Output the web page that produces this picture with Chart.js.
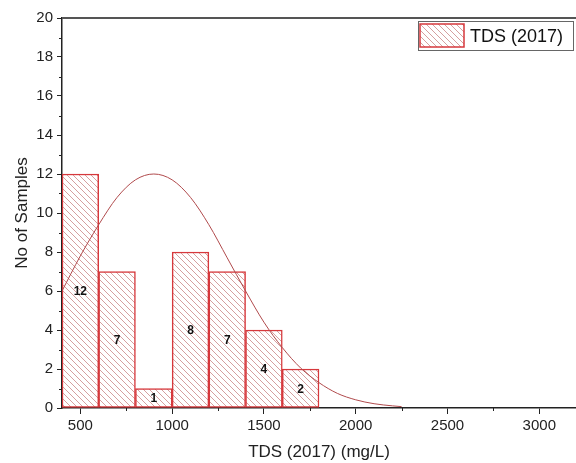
<!DOCTYPE html>
<html>
<head>
<meta charset="utf-8">
<script src="https://cdn.jsdelivr.net/npm/chart.js@4.4.1/dist/chart.umd.min.js"></script>
<style>
  html, body { margin: 0; padding: 0; background: #fff; }
  #wrap { width: 576px; height: 463px; }
</style>
</head>
<body>
<div id="wrap"><canvas id="histo"></canvas></div>
<script>
// histogram bins (centre of each 200 mg/L bin) and counts
const binCenters = [500, 700, 900, 1100, 1300, 1500, 1700];
const counts = [12, 7, 1, 8, 7, 4, 2];

// fitted normal curve
const curveX = [400, 500, 600, 700, 800, 900, 1000, 1100, 1200, 1300, 1400, 1500, 1600, 1700, 1800, 1900, 2000, 2100, 2200, 2250];
const curveY = [6.0, 7.8, 9.4, 10.8, 11.7, 12.0, 11.7, 10.8, 9.4, 7.7, 6.0, 4.4, 3.1, 2.05, 1.3, 0.75, 0.42, 0.22, 0.11, 0.07];

const xTicks = [500, 1000, 1500, 2000, 2500, 3000];
const xMinorTicks = [750, 1250, 1750, 2250, 2750];
const yTicks = [0, 2, 4, 6, 8, 10, 12, 14, 16, 18, 20];
const yMinorTicks = [1, 3, 5, 7, 9, 11, 13, 15, 17, 19];

const seriesName = 'TDS (2017)';
const barRed = '#d6383c';
const curveRed = '#b04a4c';
const FONT = '"Liberation Sans", Arial, sans-serif';

function makeHatch() {
  const s = 6;
  const c = document.createElement('canvas');
  c.width = s; c.height = s;
  const g = c.getContext('2d');
  g.fillStyle = '#fff';
  g.fillRect(0, 0, s, s);
  g.strokeStyle = 'rgba(185,95,95,0.6)';
  g.lineWidth = 1;
  g.beginPath();
  g.moveTo(-1, -1); g.lineTo(s + 1, s + 1);
  g.moveTo(-1, s - 1); g.lineTo(1, s + 1);
  g.moveTo(s - 1, -1); g.lineTo(s + 1, 1);
  g.stroke();
  return g.createPattern(c, 'repeat');
}
const hatch = makeHatch();

const extras = {
  id: 'extras',
  afterDatasetsDraw(chart) {
    const ctx = chart.ctx;
    const meta = chart.getDatasetMeta(1);
    ctx.save();
    ctx.fillStyle = '#111';
    ctx.font = 'bold 12px ' + FONT;
    ctx.textAlign = 'center';
    ctx.textBaseline = 'middle';
    meta.data.forEach((el, i) => {
      ctx.fillText(String(counts[i]), el.x, (el.y + el.base) / 2 + 1);
    });
    ctx.restore();
  },
  afterDraw(chart) {
    const ctx = chart.ctx;
    const { left, right, top, bottom } = chart.chartArea;
    const xs = chart.scales.x, ys = chart.scales.y;
    ctx.save();
    // top frame line
    ctx.strokeStyle = '#555';
    ctx.lineWidth = 2;
    ctx.beginPath();
    ctx.moveTo(left, top); ctx.lineTo(right, top);
    ctx.stroke();
    // minor ticks
    ctx.strokeStyle = '#222';
    ctx.lineWidth = 1;
    ctx.beginPath();
    xMinorTicks.forEach(v => {
      const px = Math.round(xs.getPixelForValue(v)) + 0.5;
      ctx.moveTo(px, bottom); ctx.lineTo(px, bottom + 3);
    });
    yMinorTicks.forEach(v => {
      const py = Math.round(ys.getPixelForValue(v)) + 0.5;
      ctx.moveTo(left, py); ctx.lineTo(left - 3, py);
    });
    ctx.stroke();
    // legend box
    const bx = right - 158, by = top + 3;
    ctx.fillStyle = '#fff';
    ctx.fillRect(bx, by, 155, 29);
    ctx.strokeStyle = '#666';
    ctx.lineWidth = 1;
    ctx.strokeRect(bx + 0.5, by + 0.5, 155, 29);
    ctx.fillStyle = hatch;
    ctx.fillRect(bx + 2, by + 3, 44, 23);
    ctx.strokeStyle = barRed;
    ctx.lineWidth = 1.5;
    ctx.strokeRect(bx + 2, by + 3, 44, 23);
    ctx.fillStyle = '#111';
    ctx.font = '18px ' + FONT;
    ctx.textAlign = 'left';
    ctx.textBaseline = 'middle';
    ctx.fillText(seriesName, bx + 52, by + 16);
    ctx.restore();
  }
};

new Chart('histo', {
  type: 'bar',
  data: {
    datasets: [
      {
        type: 'line',
        label: 'fit',
        data: curveX.map((x, i) => ({ x: x, y: curveY[i] })),
        borderColor: curveRed,
        borderWidth: 1,
        pointRadius: 0,
        cubicInterpolationMode: 'monotone',
        fill: false,
        order: 0
      },
      {
        type: 'bar',
        label: seriesName,
        data: binCenters.map((x, i) => ({ x: x, y: counts[i] })),
        backgroundColor: hatch,
        borderColor: barRed,
        borderWidth: 1.5,
        borderSkipped: false,
        barPercentage: 1,
        categoryPercentage: 1,
        order: 1
      }
    ]
  },
  options: {
    responsive: true,
    maintainAspectRatio: false,
    animation: false,
    layout: { padding: { top: 18, right: 0, bottom: 0, left: 0 } },
    plugins: { legend: { display: false }, tooltip: { enabled: false } },
    scales: {
      x: {
        type: 'linear',
        min: 400,
        max: 3200,
        offset: false,
        afterBuildTicks: s => { s.ticks = xTicks.map(v => ({ value: v })); },
        afterFit: s => { s.height = 55; },
        border: { color: '#222', width: 1.5 },
        grid: { offset: false, drawOnChartArea: false, tickLength: 6, tickColor: '#222' },
        ticks: { color: '#222', font: { family: FONT, size: 15 }, padding: 3, maxRotation: 0, callback: v => String(v) },
        title: { display: true, text: 'TDS (2017) (mg/L)', color: '#222', font: { family: FONT, size: 17 }, padding: { top: 3, bottom: 0 } }
      },
      y: {
        min: 0,
        max: 20,
        afterBuildTicks: s => { s.ticks = yTicks.map(v => ({ value: v })); },
        afterFit: s => { s.width = 62; },
        border: { color: '#222', width: 1.5 },
        grid: { drawOnChartArea: false, tickLength: 5, tickColor: '#222' },
        ticks: { color: '#222', font: { family: FONT, size: 15 }, padding: 4 },
        title: { display: true, text: 'No of Samples', color: '#222', font: { family: FONT, size: 17 }, padding: { top: 12, bottom: 0 } }
      }
    }
  },
  plugins: [extras]
});
</script>
</body>
</html>
